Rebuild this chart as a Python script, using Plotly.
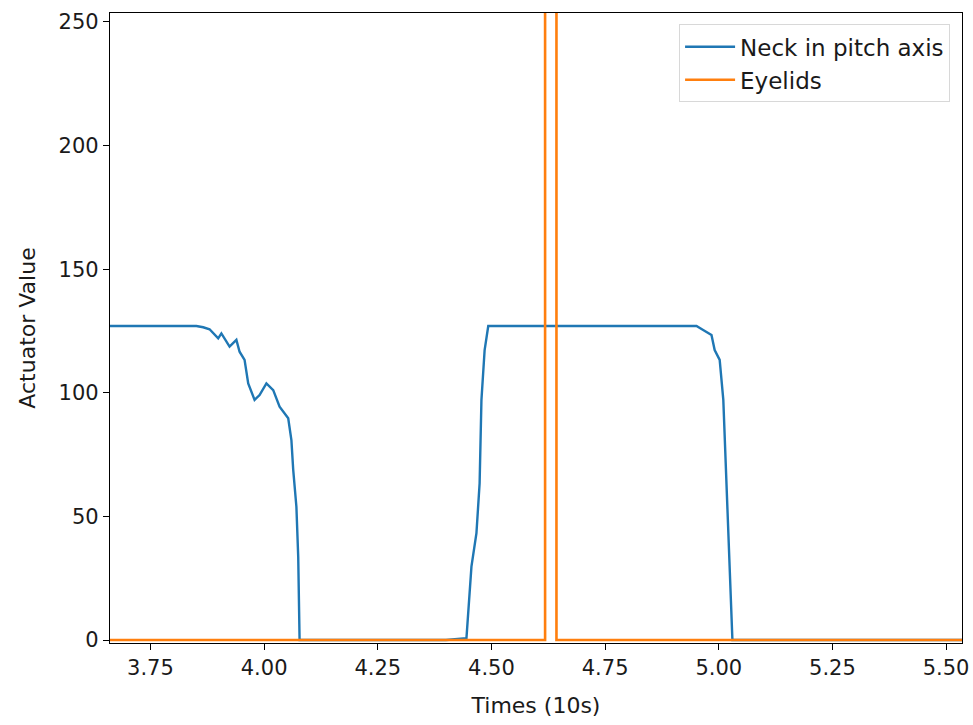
import plotly.graph_objects as go

# Neck in pitch axis (time in units of 10 s, actuator value)
neck_t = [3.661, 3.70, 3.75, 3.80, 3.851, 3.866, 3.880, 3.899, 3.906, 3.924, 3.939, 3.946, 3.957,
          3.965, 3.979, 3.990, 4.005, 4.020, 4.034, 4.053, 4.060, 4.064, 4.071, 4.075, 4.078,
          4.20, 4.30, 4.40, 4.445, 4.456, 4.467, 4.474, 4.478, 4.485, 4.493,
          4.60, 4.70, 4.80, 4.90, 4.951, 4.962, 4.973, 4.984, 4.991, 5.002, 5.010, 5.017,
          5.024, 5.030, 5.20, 5.40, 5.535]
neck_v = [127, 127, 127, 127, 127, 126.5, 125.7, 122, 124, 118.7, 121.4, 116.6, 113.3,
          103.8, 97.1, 99.1, 103.8, 101.1, 94.4, 89.7, 80.9, 68.8, 53.9, 33.7, 0,
          0, 0, 0, 0.7, 29.7, 43.2, 63.4, 97.1, 117.3, 127,
          127, 127, 127, 127, 127, 125.8, 124.7, 123.4, 117.3, 113.3, 97.1, 63.4,
          29.7, 0, 0, 0, 0]

# Eyelids
eye_t = [3.661, 4.618, 4.618, 4.643, 4.643, 5.535]
eye_v = [0, 0, 255, 255, 0, 0]

x_ticks = [3.75, 4.00, 4.25, 4.50, 4.75, 5.00, 5.25, 5.50]
y_ticks = [0, 50, 100, 150, 200, 250]

FONT = "DejaVu Sans"

fig = go.Figure()
fig.add_trace(go.Scatter(x=neck_t, y=neck_v, mode="lines", name="Neck in pitch axis",
                         line=dict(color="#1f77b4", width=2.4)))
fig.add_trace(go.Scatter(x=eye_t, y=eye_v, mode="lines", name="Eyelids",
                         line=dict(color="#ff7f0e", width=2.6)))

axis_common = dict(showline=True, linecolor="black", linewidth=1.3, mirror=True,
                   ticks="outside", ticklen=6, tickwidth=1.2, tickcolor="black",
                   showgrid=False, zeroline=False, automargin=False,
                   tickfont=dict(family=FONT, size=21, color="#1a1a1a"))

fig.update_xaxes(range=[3.661, 5.535], tickvals=x_ticks,
                 ticktext=[f"{v:.2f}" for v in x_ticks],
                 title=dict(text="Times (10s)", font=dict(family=FONT, size=22, color="#1a1a1a"),
                            standoff=18),
                 **axis_common)
fig.update_yaxes(range=[-1.2, 253.6], tickvals=y_ticks,
                 ticktext=[str(v) for v in y_ticks],
                 title=dict(text="Actuator Value", font=dict(family=FONT, size=22, color="#1a1a1a"),
                            standoff=16),
                 **axis_common)

fig.update_layout(
    width=973, height=725,
    margin=dict(l=110, r=11, t=13, b=82),
    paper_bgcolor="white", plot_bgcolor="white",
    font=dict(family=FONT, size=21, color="#1a1a1a"),
    showlegend=True,
    legend=dict(x=0.986, y=0.982, xanchor="right", yanchor="top",
                bgcolor="rgba(255,255,255,0.8)", bordercolor="#d8d8d8", borderwidth=1,
                font=dict(family=FONT, size=23, color="#1a1a1a"),
                itemwidth=50),
)

fig.write_html("out.html")
